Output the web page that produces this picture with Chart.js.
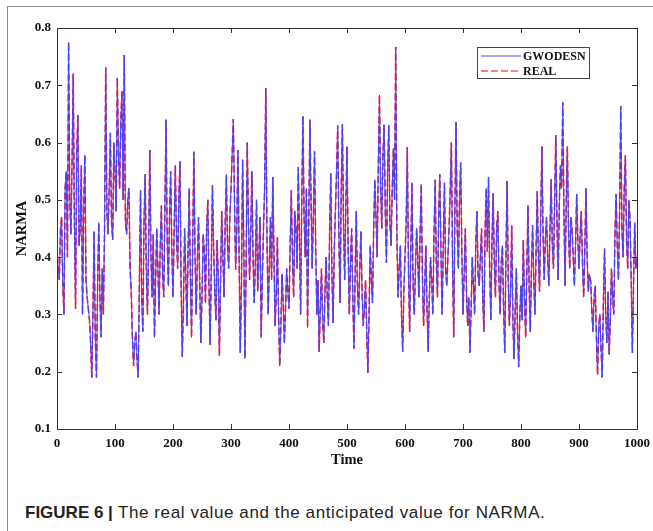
<!DOCTYPE html>
<html>
<head>
<meta charset="utf-8">
<script src="https://cdn.jsdelivr.net/npm/chart.js@4"></script>
<style>
  html, body { margin: 0; padding: 0; background: #fff; }
  #wrap { position: relative; width: 653px; height: 531px; overflow: hidden; }
  #chart { position: absolute; left: 0; top: 0; }
  .frameTop { position: absolute; left: 8px; top: 6px; width: 645px; height: 0; border-top: 1.5px solid #8a8a8a; }
  .frameLeft { position: absolute; left: 7px; top: 6px; width: 0; height: 525px; border-left: 1.5px solid #8a8a8a; }
  #caption { position: absolute; left: 25px; top: 503px; font: 17px "Liberation Sans", Arial, sans-serif; line-height: 20px; color: #222; white-space: nowrap; }
  #caption b { font-weight: bold; }
  #caption span { letter-spacing: 0.6px; }
</style>
</head>
<body>
<div id="wrap">
  <div class="frameTop"></div>
  <div class="frameLeft"></div>
  <canvas id="chart" width="653" height="480"></canvas>
  <div id="caption"><b>FIGURE 6 |</b><span> The real value and the anticipated value for NARMA.</span></div>
</div>
<script>
// NARMA series, one value every 2 time steps
const step = 2;
const real = [
  0.42, 0.38, 0.36, 0.45, 0.47, 0.35, 0.30, 0.52, 0.55, 0.40, 0.775, 0.50, 0.44, 0.57, 0.72, 0.46, 0.31, 0.58, 0.648, 0.42,
  0.45, 0.56, 0.30, 0.48, 0.578, 0.36, 0.33, 0.31, 0.29, 0.25, 0.19, 0.30, 0.445, 0.26, 0.19, 0.35, 0.46, 0.33, 0.26, 0.38,
  0.30, 0.45, 0.731, 0.48, 0.44, 0.52, 0.617, 0.46, 0.43, 0.60, 0.55, 0.48, 0.713, 0.58, 0.52, 0.64, 0.69, 0.50, 0.753, 0.46,
  0.44, 0.50, 0.52, 0.38, 0.34, 0.26, 0.21, 0.25, 0.27, 0.22, 0.19, 0.35, 0.517, 0.33, 0.27, 0.46, 0.545, 0.38, 0.30, 0.42,
  0.587, 0.40, 0.33, 0.44, 0.26, 0.36, 0.45, 0.38, 0.30, 0.42, 0.49, 0.37, 0.33, 0.48, 0.64, 0.43, 0.35, 0.47, 0.55, 0.41,
  0.33, 0.45, 0.56, 0.44, 0.38, 0.50, 0.567, 0.35, 0.226, 0.32, 0.45, 0.37, 0.28, 0.41, 0.52, 0.36, 0.26, 0.43, 0.584, 0.40,
  0.30, 0.39, 0.47, 0.36, 0.25, 0.33, 0.44, 0.41, 0.32, 0.45, 0.50, 0.35, 0.247, 0.38, 0.526, 0.42, 0.34, 0.29, 0.43, 0.37,
  0.228, 0.36, 0.48, 0.40, 0.33, 0.46, 0.544, 0.42, 0.38, 0.47, 0.52, 0.58, 0.641, 0.50, 0.378, 0.45, 0.587, 0.40, 0.233, 0.35,
  0.57, 0.42, 0.223, 0.38, 0.60, 0.47, 0.36, 0.44, 0.55, 0.40, 0.32, 0.39, 0.50, 0.34, 0.40, 0.47, 0.26, 0.36, 0.45, 0.52,
  0.695, 0.44, 0.30, 0.38, 0.47, 0.36, 0.54, 0.41, 0.28, 0.33, 0.435, 0.30, 0.21, 0.28, 0.37, 0.32, 0.25, 0.31, 0.38, 0.34,
  0.31, 0.42, 0.517, 0.40, 0.33, 0.48, 0.45, 0.38, 0.557, 0.44, 0.30, 0.50, 0.646, 0.47, 0.40, 0.52, 0.277, 0.45, 0.64, 0.50,
  0.38, 0.47, 0.585, 0.42, 0.30, 0.36, 0.235, 0.31, 0.38, 0.29, 0.25, 0.34, 0.40, 0.33, 0.28, 0.44, 0.546, 0.37, 0.285, 0.41,
  0.48, 0.55, 0.63, 0.44, 0.32, 0.51, 0.632, 0.46, 0.36, 0.49, 0.593, 0.41, 0.30, 0.39, 0.45, 0.33, 0.24, 0.37, 0.48, 0.35,
  0.30, 0.38, 0.445, 0.34, 0.28, 0.31, 0.36, 0.27, 0.198, 0.30, 0.42, 0.36, 0.32, 0.45, 0.535, 0.47, 0.40, 0.56, 0.683, 0.52,
  0.45, 0.58, 0.631, 0.48, 0.39, 0.55, 0.63, 0.46, 0.42, 0.52, 0.59, 0.50, 0.767, 0.44, 0.33, 0.38, 0.42, 0.30, 0.235, 0.34,
  0.40, 0.46, 0.592, 0.38, 0.27, 0.41, 0.53, 0.35, 0.30, 0.38, 0.45, 0.40, 0.33, 0.44, 0.527, 0.37, 0.28, 0.35, 0.42, 0.31,
  0.235, 0.33, 0.40, 0.36, 0.30, 0.44, 0.535, 0.39, 0.33, 0.47, 0.545, 0.41, 0.30, 0.42, 0.53, 0.38, 0.35, 0.40, 0.45, 0.52,
  0.60, 0.39, 0.26, 0.48, 0.636, 0.45, 0.38, 0.50, 0.565, 0.41, 0.30, 0.37, 0.45, 0.34, 0.28, 0.33, 0.233, 0.31, 0.40, 0.35,
  0.30, 0.42, 0.48, 0.37, 0.35, 0.40, 0.45, 0.33, 0.27, 0.44, 0.52, 0.41, 0.54, 0.38, 0.29, 0.43, 0.511, 0.39, 0.33, 0.45,
  0.48, 0.36, 0.30, 0.39, 0.42, 0.31, 0.233, 0.40, 0.533, 0.36, 0.28, 0.34, 0.455, 0.29, 0.222, 0.31, 0.38, 0.27, 0.208, 0.30,
  0.35, 0.29, 0.43, 0.33, 0.26, 0.37, 0.49, 0.35, 0.27, 0.38, 0.456, 0.36, 0.30, 0.41, 0.515, 0.40, 0.34, 0.47, 0.593, 0.44,
  0.36, 0.43, 0.47, 0.40, 0.35, 0.45, 0.536, 0.42, 0.38, 0.50, 0.613, 0.46, 0.36, 0.49, 0.56, 0.52, 0.67, 0.48, 0.35, 0.50,
  0.593, 0.44, 0.38, 0.47, 0.45, 0.40, 0.35, 0.42, 0.51, 0.43, 0.38, 0.44, 0.48, 0.39, 0.33, 0.41, 0.52, 0.40, 0.34, 0.37,
  0.36, 0.31, 0.27, 0.33, 0.35, 0.26, 0.195, 0.28, 0.30, 0.24, 0.19, 0.32, 0.415, 0.30, 0.25, 0.34, 0.23, 0.29, 0.38, 0.33,
  0.30, 0.44, 0.51, 0.42, 0.36, 0.48, 0.664, 0.45, 0.40, 0.52, 0.578, 0.43, 0.38, 0.50, 0.465, 0.36, 0.233, 0.35, 0.46, 0.38,
  0.40
];
// the GWODESN prediction lies on top of the real curve everywhere
const gwodesn = real.slice();

const xTicks = [0, 100, 200, 300, 400, 500, 600, 700, 800, 900, 1000];
const yTicks = [0.1, 0.2, 0.3, 0.4, 0.5, 0.6, 0.7, 0.8];

const serif = '"Liberation Serif", "Times New Roman", serif';

const toPoints = arr => arr.map((v, i) => ({ x: i * step, y: v }));

// MATLAB style box with inward ticks + boxed legend
const matlabBox = {
  id: 'matlabBox',
  afterDraw(chart) {
    const { ctx, chartArea: a, scales } = chart;
    ctx.save();
    ctx.strokeStyle = '#333';
    ctx.lineWidth = 1;
    ctx.strokeRect(a.left + 0.5, a.top + 0.5, a.right - a.left, a.bottom - a.top);
    const tl = 5;
    ctx.beginPath();
    xTicks.forEach(t => {
      const x = Math.round(scales.x.getPixelForValue(t)) + 0.5;
      ctx.moveTo(x, a.bottom); ctx.lineTo(x, a.bottom - tl);
      ctx.moveTo(x, a.top); ctx.lineTo(x, a.top + tl);
    });
    yTicks.forEach(t => {
      const y = Math.round(scales.y.getPixelForValue(t)) + 0.5;
      ctx.moveTo(a.left, y); ctx.lineTo(a.left + tl, y);
      ctx.moveTo(a.right, y); ctx.lineTo(a.right - tl, y);
    });
    ctx.stroke();

    // legend
    const bx = a.right - 160, by = a.top + 19, bw = 112, bh = 31;
    ctx.fillStyle = '#fff';
    ctx.fillRect(bx, by, bw, bh);
    ctx.strokeStyle = '#444';
    ctx.strokeRect(bx + 0.5, by + 0.5, bw, bh);
    ctx.font = 'bold 12px ' + serif;
    ctx.textBaseline = 'middle';
    chart.data.datasets.forEach((ds, i) => {
      const y = by + 9 + i * 15;
      ctx.strokeStyle = ds.borderColor;
      ctx.lineWidth = 1;
      ctx.setLineDash(ds.borderDash || []);
      ctx.beginPath();
      ctx.moveTo(bx + 4, y); ctx.lineTo(bx + 44, y);
      ctx.stroke();
      ctx.setLineDash([]);
      ctx.fillStyle = '#111';
      ctx.fillText(ds.label, bx + 46, y + 1);
    });
    ctx.restore();
  }
};

new Chart(document.getElementById('chart'), {
  type: 'line',
  data: {
    datasets: [{
      label: 'GWODESN',
      data: toPoints(gwodesn),
      borderColor: 'rgb(70,70,255)',
      borderWidth: 1,
      pointRadius: 0,
      tension: 0
    }, {
      label: 'REAL',
      data: toPoints(real),
      borderColor: 'rgb(255,0,0)',
      borderDash: [7, 3],
      borderWidth: 1.5,
      pointRadius: 0,
      tension: 0
    }]
  },
  options: {
    responsive: false,
    animation: false,
    devicePixelRatio: 1,
    layout: { padding: { left: 0, top: 28, right: 16, bottom: 0 } },
    plugins: { legend: { display: false }, tooltip: { enabled: false } },
    scales: {
      x: {
        type: 'linear',
        min: 0, max: 1000,
        afterBuildTicks: s => { s.ticks = xTicks.map(v => ({ value: v })); },
        afterFit: s => { s.height = 51; s.paddingLeft = 0; s.paddingRight = 0; },
        grid: { display: true, drawOnChartArea: false, drawTicks: false },
        border: { display: false },
        ticks: { autoSkip: false, maxRotation: 0, padding: 7, color: '#111', callback: v => String(v), font: { family: serif, size: 13, weight: 'bold' } },
        title: { display: true, text: 'Time', color: '#111', padding: { top: 0, bottom: 11 }, font: { family: serif, size: 14.5, weight: 'bold' } }
      },
      y: {
        min: 0.1, max: 0.8,
        afterBuildTicks: s => { s.ticks = yTicks.map(v => ({ value: v })); },
        afterFit: s => { s.width = 57; s.paddingTop = 0; s.paddingBottom = 0; },
        grid: { display: true, drawOnChartArea: false, drawTicks: false },
        border: { display: false },
        ticks: { padding: 6, color: '#111', callback: v => v.toFixed(1), font: { family: serif, size: 13, weight: 'bold' } },
        title: { display: true, text: 'NARMA', color: '#111', padding: { top: 14, bottom: 0 }, font: { family: serif, size: 14.5, weight: 'bold' } }
      }
    }
  },
  plugins: [matlabBox]
});
</script>
</body>
</html>
